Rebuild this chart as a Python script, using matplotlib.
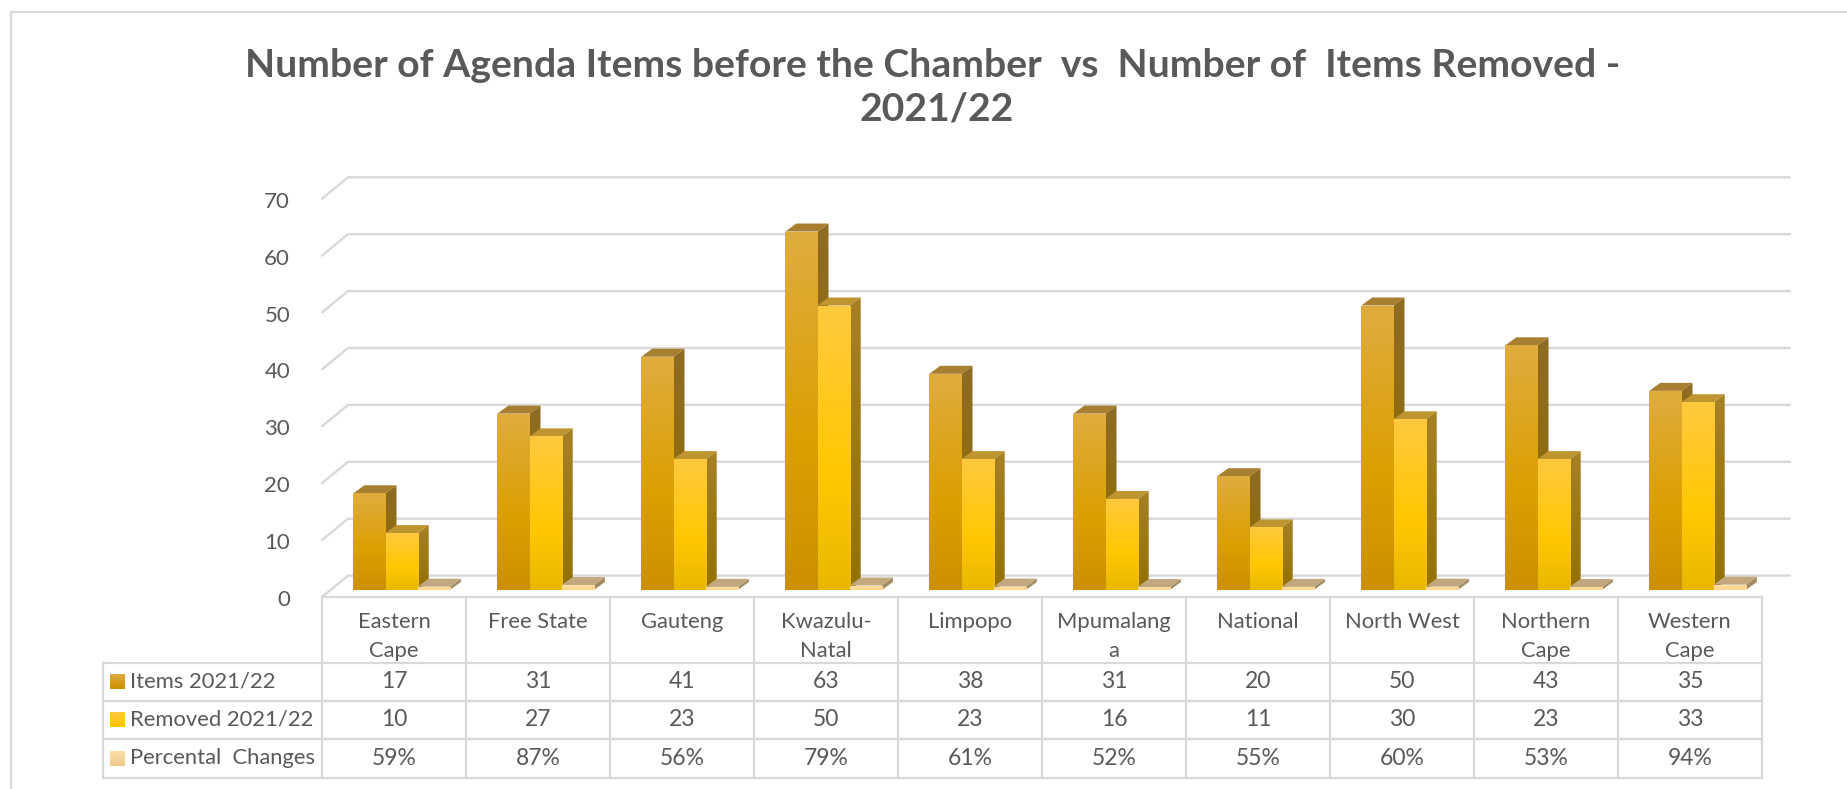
import numpy as np
import matplotlib
matplotlib.use("Agg")
import matplotlib.pyplot as plt
from matplotlib.colors import LinearSegmentedColormap
from matplotlib.patches import Polygon
from matplotlib.transforms import ScaledTranslation

plt.rcParams['font.family'] = ['Lato', 'DejaVu Sans']

categories = ["Eastern\nCape", "Free State", "Gauteng", "Kwazulu-\nNatal", "Limpopo",
              "Mpumalang\na", "National", "North West", "Northern\nCape", "Western\nCape"]
items = [17, 31, 41, 63, 38, 31, 20, 50, 43, 35]
removed = [10, 27, 23, 50, 23, 16, 11, 30, 23, 33]
percent = [0.59, 0.87, 0.56, 0.79, 0.61, 0.52, 0.55, 0.60, 0.53, 0.94]
series_names = ["Items 2021/22", "Removed 2021/22", "Percental  Changes"]
y_ticks = [0, 10, 20, 30, 40, 50, 60, 70]
title = "Number of Agenda Items before the Chamber  vs  Number of  Items Removed - \n2021/22"

W, H = 1847, 789
TEXT = '#595959'
LINE = '#D9D9D9'
fig = plt.figure(figsize=(W / 100, H / 100), dpi=100, facecolor='white')

# pixel overlay for frame and table
bg = fig.add_axes([0, 0, 1, 1], zorder=0)
bg.set_xlim(0, W)
bg.set_ylim(H, 0)
bg.axis('off')

# main chart axes: x in category units, y in values
px_l, px_r, px_0, px_70 = 322.0, 1762.0, 590.0, 191.7
ax = fig.add_axes([px_l / W, 1 - px_0 / H, (px_r - px_l) / W, (px_0 - px_70) / H], zorder=1)
ax.patch.set_alpha(0)
n = len(categories)
ux = (px_r - px_l) / n
uy = (px_0 - px_70) / 70
PX = lambda p: p / ux
PY = lambda p: p / uy

# frame
bg.plot([11, 11, W], [H, 12, 12], color=LINE, lw=1.6)

# walls/grid
for v in y_ticks:
    y_back = v + PY(14.4)
    y_front = v - PY(7)
    ax.plot([0, PX(26), n + PX(28)], [y_front, y_back, y_back], color=LINE, lw=1.7,
            clip_on=False, zorder=1, solid_capstyle='round')

cm = lambda *c: LinearSegmentedColormap.from_list('g', list(c))
styles = [
    dict(front=cm((0, '#E0AC3E'), (0.6, '#DB9F00'), (1, '#CC9000')), top='#A67F30',
         side=cm((0, '#8F6C22'), (1, '#8E6C00'))),
    dict(front=cm((0, '#FFC93F'), (0.6, '#FFC800'), (1, '#E8B800')), top='#BF9530',
         side=cm((0, '#A78024'), (1, '#937100'))),
    dict(front=cm((0, '#FFDFA6'), (1, '#FFD68A')), top='#C3A77E',
         side=cm((0, '#A48C60'), (1, '#A48C60'))),
]
bar_w = 32.2 / ux
first = 31.3 / ux
dx, dy = PX(11), PY(8)


def grad(cmap):
    return cmap(np.linspace(0, 1, 256))[:, None, :3]


z = 2
for i in range(n):
    for j, vals in enumerate([items, removed, percent]):
        x0 = i + first + j * bar_w
        v = vals[i]
        st = styles[j]
        x1 = x0 + bar_w
        side = Polygon([(x1, 0), (x1 + dx, dy), (x1 + dx, v + dy), (x1, v)], closed=True,
                       fc='none', ec='none', clip_on=False, zorder=z)
        ax.add_patch(side)
        im = ax.imshow(grad(st['side']), extent=(x1, x1 + dx, 0, v + dy), aspect='auto',
                       zorder=z, interpolation='bilinear')
        im.set_clip_path(side)
        ax.add_patch(Polygon([(x0, v), (x0 + dx, v + dy), (x1 + dx, v + dy), (x1, v)], closed=True,
                             fc=st['top'], ec='none', clip_on=False, zorder=z + 1))
        bar = ax.bar(x0, v, width=bar_w, align='edge', color='none', zorder=z + 2)[0]
        im = ax.imshow(grad(st['front']), extent=(x0, x1, 0, v), aspect='auto',
                       zorder=z + 2, interpolation='bilinear')
        im.set_clip_path(bar)
        z += 3

ax.set_xlim(0, n)
ax.set_ylim(0, 70)
for s in ax.spines.values():
    s.set_visible(False)
ax.set_xticks([])
ax.set_yticks(y_ticks)
ax.tick_params(axis='y', length=0, pad=23, labelsize=16, labelcolor=TEXT)
off = ScaledTranslation(0, -8 / 100, fig.dpi_scale_trans)
for lab in ax.get_yticklabels():
    lab.set_transform(lab.get_transform() + off)

# title
fig.text(937 / W, 1 - 87 / H, title, ha='center', va='center', fontsize=28.2, fontweight='bold',
         color=TEXT, linespacing=1.3)

# data table
tbl_l, col0, tbl_r = 102.5, px_l, px_r
row_y = [596.7, 663.3, 700.7, 739.3, 777.7]
FS = 15.8
for y in row_y:
    bg.plot([col0 if y == row_y[0] else tbl_l, tbl_r], [y, y], color=LINE, lw=1.6, solid_capstyle='round')
bg.plot([tbl_l, tbl_l], [row_y[1], row_y[-1]], color=LINE, lw=1.6)
for c in range(n + 1):
    xc = col0 + c * ux
    bg.plot([xc, xc], [row_y[0], row_y[-1]], color=LINE, lw=1.6)

for c, name in enumerate(categories):
    bg.text(col0 + (c + 0.5) * ux, 612, name, ha='center', va='top', fontsize=FS, color=TEXT,
            linespacing=1.55)

rows = [[str(v) for v in items], [str(v) for v in removed], [f"{round(p * 100)}%" for p in percent]]
key_maps = [cm('#DFAB40', '#CC9000'), cm('#FFC93F', '#FFC400'), cm('#FFDFA8', '#EFC988')]
for r, vals in enumerate(rows):
    yc = (row_y[r + 1] + row_y[r + 2]) / 2
    bg.imshow(grad(key_maps[r]), extent=(110, 125, yc + 7.5, yc - 7.5), aspect='auto', zorder=3,
              origin='upper')
    bg.text(130, yc, series_names[r], ha='left', va='center', fontsize=FS, color=TEXT)
    for c, t in enumerate(vals):
        bg.text(col0 + (c + 0.5) * ux, yc, t, ha='center', va='center', fontsize=FS + 0.7, color=TEXT)
bg.set_xlim(0, W)
bg.set_ylim(H, 0)

fig.savefig('out.png', dpi=100, facecolor='white')
